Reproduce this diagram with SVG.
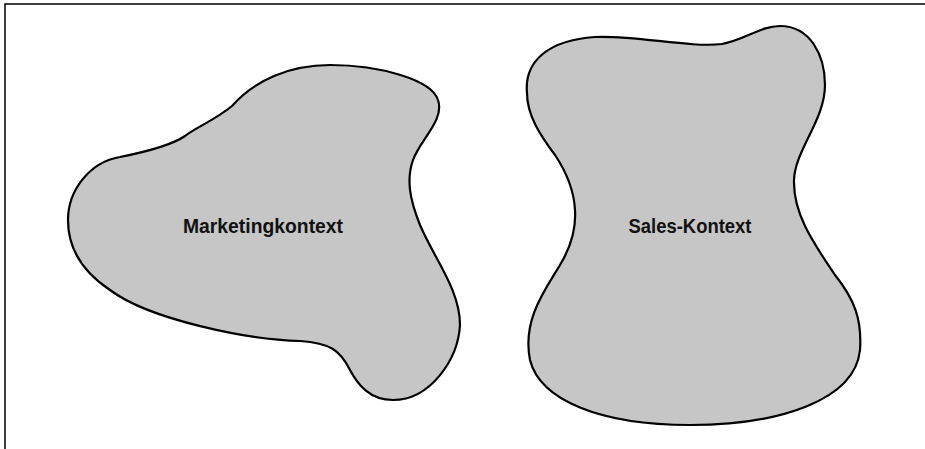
<svg xmlns="http://www.w3.org/2000/svg" width="925" height="449" viewBox="0 0 925 449">
<style>
.blob{fill:#c6c6c6;stroke:#000;stroke-width:2.2}
.lbl{font-family:"Liberation Sans",Arial,sans-serif;font-weight:bold;font-size:21px;fill:#111;text-anchor:middle}
.frame{stroke:#000;stroke-width:1.5;fill:none}
</style>
<rect width="925" height="449" fill="#fff"/>
<path class="frame" d="M5,449 L5,4 L925,4"/>
<g id="marketing">
<path class="blob" d="M120,157 C150,151 172,145 185,136 C195,128 215,120 232,106 C255,80 290,65 330,65 C380,65 432,80 438,100 C445,120 420,140 413,160 C406,180 410,200 420,225 C435,260 460,290 460,325 C458,360 430,400 393,400 C370,400 358,385 350,370 C340,350 330,343 300,341 C250,340 150,320 110,290 C80,270 68,245 68,220 C68,190 90,162 120,157 Z"/>
<text class="lbl" x="263" y="233" textLength="160" lengthAdjust="spacingAndGlyphs">Marketingkontext</text>
</g>
<g id="sales">
<path class="blob" d="M527,93 C524,60 550,40 595,37 C635,35 690,48 722,44 C745,40 760,26 780,26 C810,26 825,55 825,85 C825,120 795,150 794,180 C793,215 815,245 835,275 C855,300 862,320 860,350 C855,400 780,425 690,425 C600,425 540,400 530,360 C522,320 545,290 560,265 C572,245 576,225 575,210 C574,190 565,170 555,155 C540,135 527,115 527,93 Z"/>
<text class="lbl" x="690" y="233" textLength="123" lengthAdjust="spacingAndGlyphs">Sales-Kontext</text>
</g>
<g id="connectors"/>
</svg>
